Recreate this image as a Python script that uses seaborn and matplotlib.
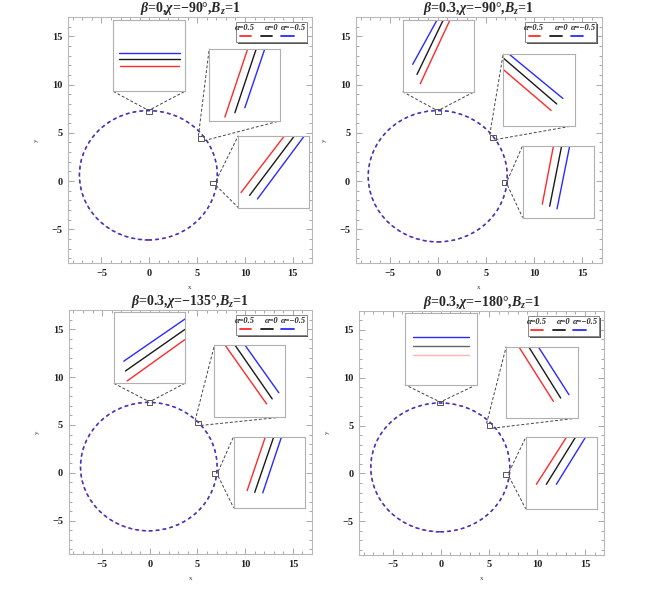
import pandas as pd
import matplotlib
matplotlib.use('Agg')
import matplotlib.pyplot as plt
import seaborn as sns
from matplotlib.patches import Ellipse, Rectangle

# labels and colours of the three alpha curves
alpha_labels = ['α=0.5', 'α=0', 'α=−0.5']
alpha_colors = ['#ff2a2a', '#1a1a1a', '#2a2aff']

titles = [r'$\beta$=0,$\chi$=−90°,$B_z$=1',
          r'$\beta$=0.3,$\chi$=−90°,$B_z$=1',
          r'$\beta$=0.3,$\chi$=−135°,$B_z$=1',
          r'$\beta$=0.3,$\chi$=−180°,$B_z$=1']

# shadow boundary: centre and half axes
shadow_cx = [-0.1, 0.0, -0.1, -0.05]
shadow_cy = [0.6, 0.5, 0.65, 0.63]
shadow_rx = [7.2, 7.2, 7.15, 7.22]
shadow_ry = [6.7, 6.8, 6.7, 6.72]
ring_offset = [0.02, 0.01, 0.0]
ring_alpha = [0.55, 0.55, 0.8]

# zoomed spots on the curve: top, upper right, right
mark_x = [[-0.07, 5.43, 6.68], [0.0, 5.69, 6.93], [-0.03, 5.05, 6.87], [-0.06, 5.06, 6.8]]
mark_y = [[7.23, 4.44, -0.21], [7.19, 4.55, -0.18], [7.32, 5.2, -0.1], [7.35, 4.97, -0.1]]
mark_w, mark_h = 0.6, 0.5

# lower left corner of the inset boxes (data units)
inset_x0 = [[-3.76, 6.26, 9.29], [-3.64, 6.79, 8.8], [-3.77, 6.77, 8.79], [-3.73, 6.8, 8.83]]
inset_y0 = [[9.29, 6.26, -2.75], [9.27, 5.76, -3.78], [9.35, 5.86, -3.66], [9.27, 5.79, -3.69]]
inset_size = 7.45

# segments seen in each inset, (x0, y0, x1, y1) per alpha, in box fractions
seg_p1 = [[(0.09, 0.36, 0.92, 0.36), (0.08, 0.45, 0.93, 0.45), (0.08, 0.54, 0.93, 0.54)],
          [(0.22, 0.05, 0.54, 1.0), (0.36, 0.11, 0.66, 1.0), (0.50, 0.18, 0.78, 1.0)],
          [(0.04, 0.21, 0.65, 1.0), (0.16, 0.17, 0.79, 1.0), (0.27, 0.12, 0.93, 1.0)]]
seg_p2 = [[(0.245, 0.11, 0.66, 1.0), (0.20, 0.24, 0.566, 1.0), (0.14, 0.38, 0.48, 1.0)],
          [(0.0, 0.78, 0.667, 0.21), (0.0, 0.94, 0.745, 0.30), (0.074, 1.0, 0.83, 0.377)],
          [(0.274, 0.185, 0.43, 1.0), (0.377, 0.157, 0.544, 1.0), (0.479, 0.12, 0.656, 1.0)]]
seg_p3 = [[(0.188, 0.033, 1.0, 0.613), (0.164, 0.173, 1.0, 0.755), (0.14, 0.31, 1.0, 0.90)],
          [(0.153, 1.0, 0.735, 0.18), (0.293, 1.0, 0.814, 0.25), (0.433, 1.0, 0.907, 0.336)],
          [(0.19, 0.242, 0.448, 1.0), (0.297, 0.218, 0.566, 1.0), (0.41, 0.21, 0.675, 1.0)]]
seg_p4 = [[(0.107, 0.41, 0.898, 0.41), (0.107, 0.544, 0.898, 0.544), (0.107, 0.665, 0.898, 0.665)],
          [(0.175, 1.0, 0.659, 0.233), (0.313, 1.0, 0.76, 0.28), (0.447, 1.0, 0.876, 0.326)],
          [(0.149, 0.343, 0.567, 1.0), (0.288, 0.343, 0.693, 1.0), (0.428, 0.343, 0.833, 1.0)]]
segments = [seg_p1, seg_p2, seg_p3, seg_p4]
faded_palette = ['#ffb3b3', '#666666', '#2a2aff']   # top inset of last panel

# which corners of the small square join which corners of the box
links = [[('tl', 'bl'), ('tr', 'br')],
         [('tl', 'tl'), ('br', 'br')],
         [('tr', 'tl'), ('br', 'bl')]]

sns.set_theme(style='ticks')
plt.rcParams['font.family'] = ['Liberation Serif', 'DejaVu Serif']
plt.rcParams['mathtext.fontset'] = 'custom'
plt.rcParams['mathtext.rm'] = 'Liberation Serif:bold'
plt.rcParams['mathtext.it'] = 'Liberation Serif:italic:bold'
plt.rcParams['mathtext.bf'] = 'Liberation Serif:bold'

positions = [[0.104, 0.5572, 0.373, 0.414], [0.544, 0.5572, 0.376, 0.414],
             [0.105, 0.067, 0.372, 0.411], [0.549, 0.066, 0.375, 0.411]]


def corner(x0, y0, w, h, c):
    cx = x0 if c[1] == 'l' else x0 + w
    cy = y0 if c[0] == 'b' else y0 + h
    return cx, cy


def draw_inset(ax, x0, y0, segs, palette):
    iax = ax.inset_axes([x0, y0, inset_size, inset_size], transform=ax.transData, zorder=5)
    rows = []
    for lab, s in zip(alpha_labels, segs):
        rows.append({'x': s[0], 'y': s[1], 'alpha': lab})
        rows.append({'x': s[2], 'y': s[3], 'alpha': lab})
    df = pd.DataFrame(rows)
    sns.lineplot(data=df, x='x', y='y', hue='alpha', palette=palette, estimator=None,
                 sort=False, legend=False, ax=iax, lw=1.0)
    iax.set_xlim(0, 1)
    iax.set_ylim(0, 1)
    iax.set_xticks([])
    iax.set_yticks([])
    iax.set_xlabel('')
    iax.set_ylabel('')
    iax.set_facecolor('white')
    for sp in iax.spines.values():
        sp.set_color('#b0b0b0')
        sp.set_linewidth(0.8)


def draw_legend(ax):
    ax.add_patch(Rectangle((0.696, 0.889), 0.289, 0.081, transform=ax.transAxes,
                           facecolor='#555555', edgecolor='none', zorder=6, clip_on=False))
    ax.add_patch(Rectangle((0.689, 0.898), 0.289, 0.081, transform=ax.transAxes,
                           facecolor='white', edgecolor='#888888', lw=0.7, zorder=7, clip_on=False))
    text_x = [0.726, 0.836, 0.924]
    line_x = [(0.703, 0.750), (0.790, 0.838), (0.874, 0.926)]
    for lab, col, tx, lx in zip(alpha_labels, alpha_colors, text_x, line_x):
        ax.text(tx, 0.955, lab, transform=ax.transAxes, ha='center', va='center',
                fontsize=6, fontweight='bold', fontstyle='italic', zorder=8)
        ax.plot(lx, [0.922, 0.922], transform=ax.transAxes, color=col, lw=1.3, zorder=8)


fig = plt.figure(figsize=(6.54, 5.94), dpi=100)
for i in range(4):
    ax = fig.add_axes(positions[i])
    ax.set_xlim(-8.5, 17)
    ax.set_ylim(-8.5, 17)

    for col, dr, al in zip(alpha_colors, ring_offset, ring_alpha):
        ax.add_patch(Ellipse((shadow_cx[i], shadow_cy[i]), 2 * (shadow_rx[i] + dr),
                             2 * (shadow_ry[i] + dr), fill=False, edgecolor=col,
                             lw=1.0, ls=(0, (2.6, 2.4)), alpha=al))

    for k in range(3):
        sx = mark_x[i][k] - mark_w / 2
        sy = mark_y[i][k] - mark_h / 2
        ax.add_patch(Rectangle((sx, sy), mark_w, mark_h, fill=False,
                               edgecolor='#555555', lw=0.7, zorder=4))
        for a, b in links[k]:
            p = corner(sx, sy, mark_w, mark_h, a)
            q = corner(inset_x0[i][k], inset_y0[i][k], inset_size, inset_size, b)
            ax.plot([p[0], q[0]], [p[1], q[1]], color='#444444', lw=0.7,
                    ls=(0, (3, 2)), zorder=3)
        pal = faded_palette if (i == 3 and k == 0) else alpha_colors
        draw_inset(ax, inset_x0[i][k], inset_y0[i][k], segments[i][k], pal)

    draw_legend(ax)

    ax.set_xticks([-5, 0, 5, 10, 15])
    ax.set_yticks([-5, 0, 5, 10, 15])
    ax.set_xticks(range(-8, 17), minor=True)
    ax.set_yticks(range(-8, 17), minor=True)
    ax.tick_params(which='both', direction='in', top=True, right=True,
                   color='#9a9a9a', width=0.6, labelsize=7.5, labelcolor='#222222', pad=4)
    ax.tick_params(which='major', length=4)
    ax.tick_params(which='minor', length=2)
    for lab in ax.get_xticklabels() + ax.get_yticklabels():
        lab.set_fontweight('bold')
    for sp in ax.spines.values():
        sp.set_color('#b8b8b8')
        sp.set_linewidth(0.8)
    ax.set_xlabel('x', fontsize=5, labelpad=5, color='#333333')
    ax.set_ylabel('y', fontsize=5, labelpad=9, color='#333333')
    ax.set_title(titles[i], fontsize=10, fontweight='bold', pad=0.5)

fig.savefig('out.png', dpi=100)
